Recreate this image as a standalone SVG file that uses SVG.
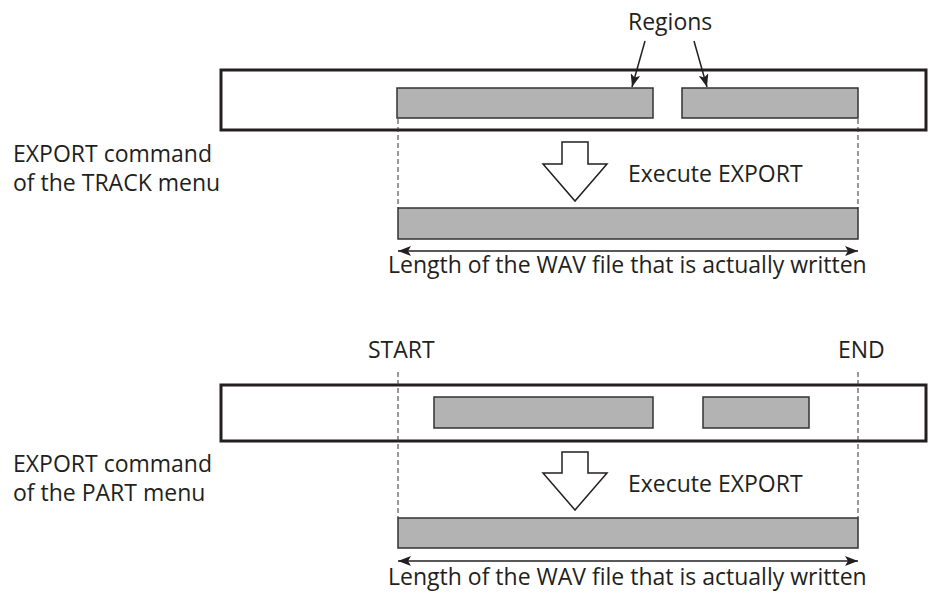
<svg xmlns="http://www.w3.org/2000/svg" width="929" height="596" viewBox="0 0 929 596">
<style>
text{font-family:"Open Sans","Noto Sans",sans-serif;font-size:23px;fill:#231f20}
.frame{fill:#fff;stroke:#231f20;stroke-width:3}
.reg{fill:#b3b3b3;stroke:#333;stroke-width:1.5}
.dash{stroke:#333;stroke-width:1;stroke-dasharray:5,3;fill:none}
.big{fill:#fff;stroke:#231f20;stroke-width:1.5;stroke-linejoin:miter}
.ln{stroke:#231f20;stroke-width:1.5;fill:none}
</style>
<defs>
<marker id="ah" viewBox="0 0 13 10" refX="13" refY="5" markerWidth="13" markerHeight="10" markerUnits="userSpaceOnUse" orient="auto-start-reverse">
<path d="M0,0 L13,5 L0,10 L3,5 Z" fill="#231f20"/>
</marker>
</defs>
<g id="track-section">
<g id="track-label"><text x="13" y="162">EXPORT command</text><text x="13" y="191">of the TRACK menu</text></g>
<g id="track-frame"><rect class="frame" x="221" y="70" width="705" height="60"/></g>
<g id="track-region1"><rect class="reg" x="397" y="88" width="256" height="30"/></g>
<g id="track-region2"><rect class="reg" x="682" y="88" width="176" height="30"/></g>
<g id="regions-label"><text x="628" y="30">Regions</text></g>
<g id="track-exec"><path class="big" d="M562,142 H588 V164 H607 L575,201 L543,164 H562 Z"/><text x="628" y="182">Execute EXPORT</text></g>
<g id="track-result"><rect class="reg" x="398" y="208" width="460" height="31"/></g>
<g id="track-length"><text x="388" y="273">Length of the WAV file that is actually written</text></g>
</g>
<g id="part-section">
<g id="part-label"><text x="13" y="472">EXPORT command</text><text x="13" y="501">of the PART menu</text></g>
<g id="start-label"><text x="368" y="358">START</text></g>
<g id="end-label"><text x="838" y="358">END</text></g>
<g id="part-frame"><rect class="frame" x="221" y="385" width="705" height="56"/></g>
<g id="part-region1"><rect class="reg" x="434" y="397" width="219" height="31"/></g>
<g id="part-region2"><rect class="reg" x="703" y="397" width="106" height="31"/></g>
<g id="part-exec"><path class="big" d="M562,452 H588 V473 H607 L575,510 L543,473 H562 Z"/><text x="628" y="492">Execute EXPORT</text></g>
<g id="part-result"><rect class="reg" x="398" y="518" width="460" height="30"/></g>
<g id="part-length"><text x="388" y="585">Length of the WAV file that is actually written</text></g>
</g>
<g id="connectors">
<path class="dash" d="M398,119 V208 M858,119 V208"/>
<path class="dash" d="M398,372 V518 M858,372 V518"/>
<path class="ln" d="M645,41 L632,87" marker-end="url(#ah)"/>
<path class="ln" d="M694,41 L707,87" marker-end="url(#ah)"/>
<path class="ln" d="M398,251 H858" marker-start="url(#ah)" marker-end="url(#ah)"/>
<path class="ln" d="M398,561 H858" marker-start="url(#ah)" marker-end="url(#ah)"/>
</g>
</svg>
